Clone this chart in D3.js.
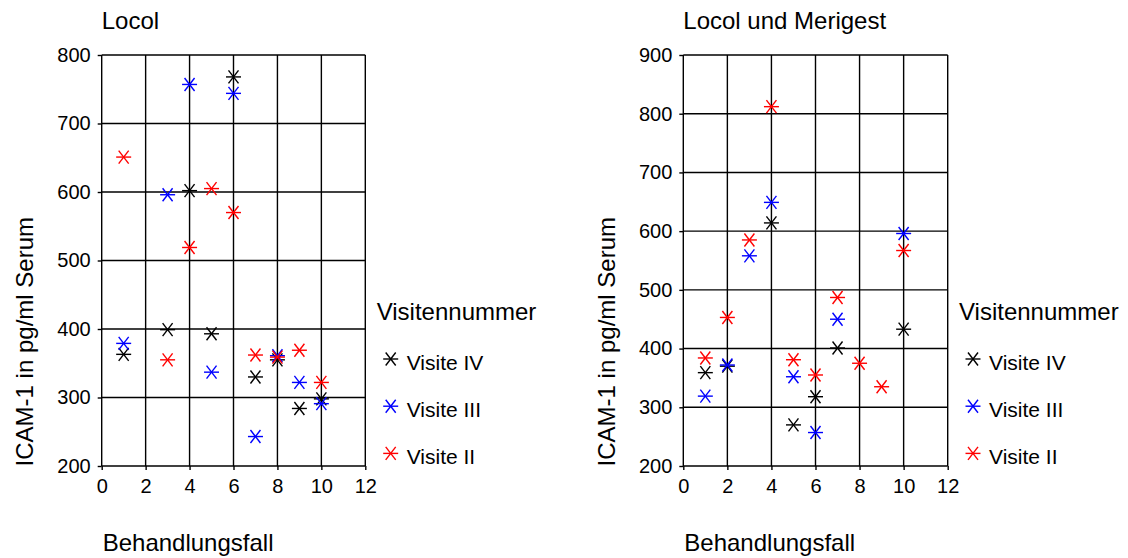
<!DOCTYPE html>
<html><head><meta charset="utf-8">
<script src="https://cdn.jsdelivr.net/npm/d3@7/dist/d3.min.js"></script>
<style>body{margin:0;background:#fff}svg{display:block}text{font-family:"Liberation Sans",Arial,sans-serif;fill:#000}</style>
</head><body>
<script>
const cases = [1,2,3,4,5,6,7,8,9,10];
const seriesNames = ["Visite IV","Visite III","Visite II"];
const seriesColors = ["#000000","#0000ff","#ff0000"];
// Locol
const locolIV  = [363,null,399,602,393,768,330,355,284,298];
const locolIII = [379,null,596,757,337,744,243,361,322,291];
const locolII  = [651,null,355,519,605,570,362,359,369,322];
// Locol und Merigest
const merIV  = [359,370,null,614,270,318,401,null,null,433];
const merIII = [319,372,558,649,352,257,450,null,null,596];
const merII  = [384,453,585,812,381,355,487,375,335,567];
const xTicks = [0,2,4,6,8,10,12];
const leftYTicks = [200,300,400,500,600,700,800];
const rightYTicks = [200,300,400,500,600,700,800,900];
const panelTitles = ["Locol","Locol und Merigest"];
const xTitle = "Behandlungsfall";
const yTitle = "ICAM-1 in pg/ml Serum";
const legendTitle = "Visitennummer";

const W=1128,H=558;
const svg=d3.select("body").append("svg").attr("width",W).attr("height",H);

function star(g,color){
  g.append("line").attr("x1",-7.5).attr("x2",7.5).attr("y1",0).attr("y2",0);
  g.append("line").attr("x1",-5).attr("x2",5).attr("y1",-6.5).attr("y2",6.5);
  g.append("line").attr("x1",-5).attr("x2",5).attr("y1",6.5).attr("y2",-6.5);
  g.selectAll("line").attr("stroke",color).attr("stroke-width",1.4);
}

function panel(opt){
  const {left,right,top,bottom,yTicks,series,title,ylabX,legX} = opt;
  const x=d3.scaleLinear().domain([0,12]).range([left,right]);
  const y=d3.scaleLinear().domain([yTicks[0],yTicks[yTicks.length-1]]).range([bottom,top]);
  const g=svg.append("g");
  // grid
  g.append("g").selectAll("line").data(xTicks).join("line")
    .attr("x1",d=>x(d)).attr("x2",d=>x(d)).attr("y1",top).attr("y2",bottom)
    .attr("stroke","#000").attr("stroke-width",1.4);
  g.append("g").selectAll("line").data(yTicks).join("line")
    .attr("x1",left).attr("x2",right).attr("y1",d=>y(d)).attr("y2",d=>y(d))
    .attr("stroke","#000").attr("stroke-width",1.4);
  // axes
  const ax=g.append("g").attr("transform",`translate(0,${bottom})`)
    .call(d3.axisBottom(x).tickValues(xTicks).tickSize(4).tickPadding(9));
  const ay=g.append("g").attr("transform",`translate(${left},0)`)
    .call(d3.axisLeft(y).tickValues(yTicks).tickSize(4).tickPadding(7));
  [ax,ay].forEach(a=>{
    a.selectAll(".tick line").attr("stroke","#000").attr("stroke-width",1.4);
    a.selectAll("text").attr("font-size",20).attr("font-family","Liberation Sans, Arial, sans-serif").attr("fill","#000");});
  ax.select(".domain").remove();
  ay.select(".domain").remove();
  // markers
  series.forEach((s,i)=>{
    cases.forEach((c,j)=>{
      if(s[j]==null) return;
      const m=g.append("g").attr("transform",`translate(${x(c)},${y(s[j])})`);
      star(m,seriesColors[i]);
    });
  });
  // titles
  g.append("text").attr("x",left).attr("y",29).attr("font-size",24).text(title);
  g.append("text").attr("x",left+1).attr("y",551).attr("font-size",24).text(xTitle);
  g.append("text").attr("transform",`translate(${ylabX},341.7) rotate(-90)`)
    .attr("text-anchor","middle").attr("font-size",24).text(yTitle);
  // legend
  g.append("text").attr("x",legX).attr("y",320).attr("font-size",24).text(legendTitle);
  seriesNames.forEach((n,i)=>{
    const cy=359+i*47.2;
    const m=g.append("g").attr("transform",`translate(${legX+14},${cy})`);
    star(m,seriesColors[i]);
    g.append("text").attr("x",legX+30).attr("y",cy+10.5).attr("font-size",21).text(n);
  });
}

panel({left:101.7,right:365.3,top:55,bottom:466,yTicks:leftYTicks,
  series:[locolIV,locolIII,locolII],title:panelTitles[0],ylabX:33,legX:376.7});
panel({left:683.3,right:947.7,top:55,bottom:466,yTicks:rightYTicks,
  series:[merIV,merIII,merII],title:panelTitles[1],ylabX:615,legX:959});
</script>
</body></html>
